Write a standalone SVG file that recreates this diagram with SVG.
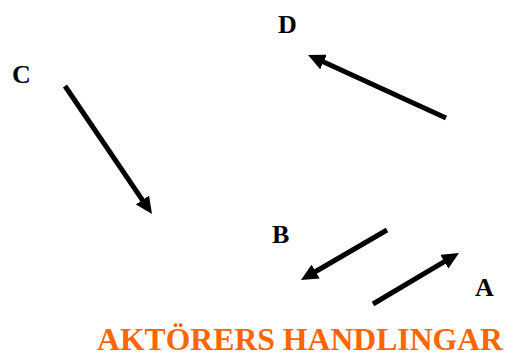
<svg xmlns="http://www.w3.org/2000/svg" width="507" height="356" viewBox="0 0 507 356">
<style>
.lbl{font-family:'Liberation Serif',Tinos,'DejaVu Serif',serif;font-weight:700;font-size:26px;fill:#000}
.title{font-family:'Liberation Serif',Tinos,'DejaVu Serif',serif;font-weight:700;font-size:31px;fill:#FF6600}
.arr{stroke:#000;stroke-width:5;fill:none;marker-end:url(#ah)}
</style>
<defs>
<marker id="ah" markerUnits="userSpaceOnUse" markerWidth="17" markerHeight="16" refX="1" refY="8" orient="auto" viewBox="0 0 17 16">
<path d="M0,0 L17,8 L0,16 z" fill="#000"/>
</marker>
</defs>
<rect width="507" height="356" fill="#fff"/>
<g id="connectors">
<line class="arr" x1="65" y1="86" x2="143" y2="200.8"/>
<line class="arr" x1="446" y1="118" x2="322.6" y2="61.6"/>
<line class="arr" x1="387" y1="230" x2="314.8" y2="272"/>
<line class="arr" x1="373" y1="304" x2="445.2" y2="261.2"/>
</g>
<g id="node-D"><text class="lbl" x="278" y="33">D</text></g>
<g id="node-C"><text class="lbl" x="12" y="83">C</text></g>
<g id="node-B"><text class="lbl" x="272" y="243">B</text></g>
<g id="node-A"><text class="lbl" x="475" y="296">A</text></g>
<g id="title"><text class="title" x="97" y="350" textLength="406" lengthAdjust="spacingAndGlyphs">AKTÖRERS HANDLINGAR</text></g>
</svg>
